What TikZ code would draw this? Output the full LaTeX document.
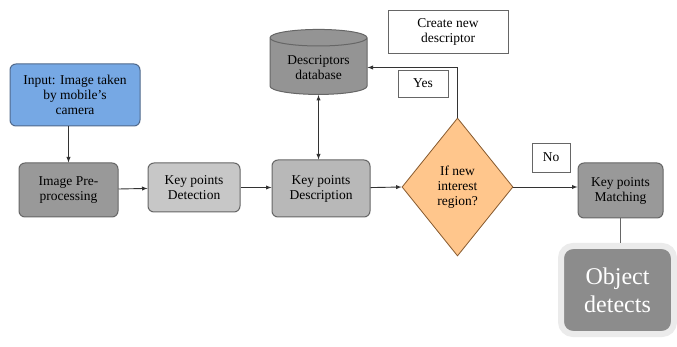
\documentclass[tikz,border=0pt]{standalone}
\usepackage{fontspec}
\setmainfont{Liberation Serif}
\usetikzlibrary{arrows}
\usetikzlibrary{shapes.geometric}
\begin{document}
\begin{tikzpicture}[x=1pt,y=-1pt,>=latex,box/.style={rectangle, rounded corners=6pt, draw=black!60, line width=1pt, align=center, inner sep=2pt, font=\fontsize{13.5}{15}\selectfont}]
    \tikzset{lbl/.style={rectangle, draw=black!60, fill=white, line width=0.8pt, align=center, inner sep=2pt, font=\fontsize{13.5}{15}\selectfont}}
    \tikzset{dec/.style={diamond, draw=brown!70!black, fill=orange!45!white, line width=0.8pt, align=center, inner sep=0pt, aspect=0.8, font=\fontsize{13.5}{15}\selectfont}}
    \tikzset{link/.style={line width=0.9pt, black!80}}
    \useasboundingbox[fill=white] (0,0) rectangle (677,347);

    \node[box, fill={rgb,255:red,118;green,168;blue,228}, draw={rgb,255:red,80;green,105;blue,140}, minimum width=130pt, minimum height=62pt] (input) at (75,95) {Input: Image taken\\by mobile's\\camera};
    \node[box, fill=black!40, minimum width=99pt, minimum height=54pt] (prep) at (68.5,190) {Image Pre-\\processing};
    \node[box, fill=black!22, minimum width=92pt, minimum height=49pt] (detect) at (194,187.5) {Key points\\Detection};
    \node[box, fill=black!28, minimum width=98pt, minimum height=57pt] (descr) at (321,188.5) {Key points\\Description};
    \node[cylinder, shape border rotate=90, aspect=0.25, draw=black!60, line width=1pt, fill=black!42, minimum width=97pt, minimum height=65pt, align=center, inner sep=2pt, font=\fontsize{13.5}{15}\selectfont] (db) at (318.5,67.5) {Descriptors\\database};
    \node[lbl, minimum width=120pt, minimum height=43pt] (create) at (448,31.5) {Create new\\descriptor};
    \node[lbl, minimum width=50pt, minimum height=27pt] (yes) at (423,83.5) {Yes};
    \node[dec, minimum width=111pt, minimum height=138pt] (ifnew) at (457.5,187) {If new\\interest\\region?};
    \node[lbl, minimum width=38pt, minimum height=29pt] (no) at (551,157.5) {No};
    \node[box, fill=black!40, minimum width=85pt, minimum height=55pt] (match) at (620.5,190.5) {Key points\\Matching};
    \node[rectangle, rounded corners=12pt, draw=black!8, line width=6pt, fill=black!45, text=white, minimum width=113pt, minimum height=88pt, align=center, font=\fontsize{24}{28}\selectfont] (obj) at (617.5,290) {Object\\detects};

    \draw[link, ->] (input.south -| prep.north) -- (prep.north);
    \draw[link, ->] (prep) -- (detect);
    \draw[link, ->] (detect.east) -- (descr.west |- detect.east);
    \draw[link, <->] (db.south) -- (db.south |- descr.north);
    \draw[link, ->] (descr) -- (ifnew.west);
    \draw[link, ->] (ifnew.north) |- (db.east);
    \draw[link, ->] (ifnew.east) -- (match.west |- ifnew.east);
    \draw[link, black!60, line width=1.5pt] (match.south) -- (match.south |- obj.north);
\end{tikzpicture}
\end{document}
